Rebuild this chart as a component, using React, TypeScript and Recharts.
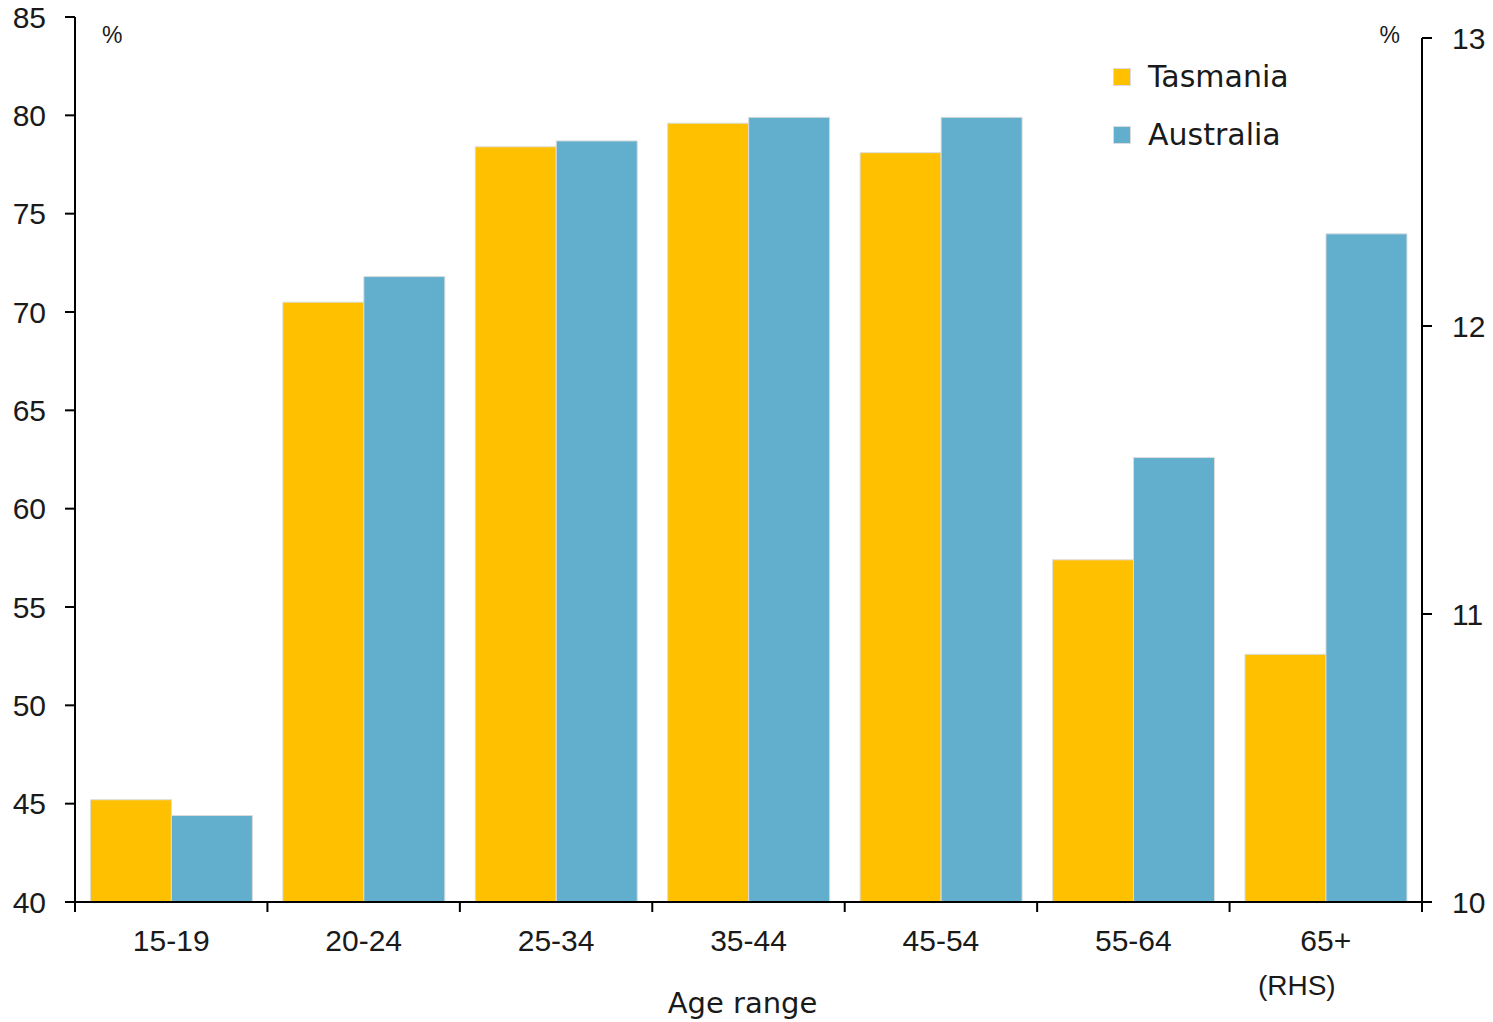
import React from 'react';
import { BarChart, Bar, XAxis, YAxis, Legend } from 'recharts';

const categories = ['15-19', '20-24', '25-34', '35-44', '45-54', '55-64', '65+'];
const tickNotes = ['', '', '', '', '', '', '(RHS)'];
const tasmania = [45.2, 70.5, 78.4, 79.6, 78.1, 57.4, null];
const australia = [44.4, 71.8, 78.7, 79.9, 79.9, 62.6, null];
const tasmaniaRhs = [null, null, null, null, null, null, 10.86];
const australiaRhs = [null, null, null, null, null, null, 12.32];
const leftTicks = [40, 45, 50, 55, 60, 65, 70, 75, 80, 85];
const rightTicks = [10, 11, 12, 13];
const seriesNames = ['Tasmania', 'Australia'];
const seriesColors = ['#FFC000', '#61AECD'];

const data = categories.map((c, i) => ({
  category: c,
  tas: tasmania[i],
  aus: australia[i],
  tasRhs: tasmaniaRhs[i],
  ausRhs: australiaRhs[i],
}));

const NUM_FONT = '"Liberation Sans", Arial, sans-serif';
const TEXT_FONT = '"DejaVu Sans", sans-serif';
const INK = '#1a1a1a';
const X_TICK_SIZE = 10;
const X_TICK_MARGIN = 18;
const AXIS_STROKE = { stroke: '#000', strokeWidth: 2 };

function AgeTick(props: any) {
  const { x, y, payload, index, visibleTicksCount } = props;
  const half = payload && typeof payload.offset === 'number' ? payload.offset : 0;
  const axisY = y - X_TICK_SIZE - X_TICK_MARGIN;
  const note = tickNotes[index];
  return (
    <g>
      <line x1={x - half} x2={x - half} y1={axisY} y2={axisY + X_TICK_SIZE} {...AXIS_STROKE} />
      {index === visibleTicksCount - 1 && (
        <line x1={x + half} x2={x + half} y1={axisY} y2={axisY + X_TICK_SIZE} {...AXIS_STROKE} />
      )}
      <text x={x} y={y} dy="0.71em" textAnchor="middle" fontFamily={NUM_FONT} fontSize={30} fill={INK}>
        {payload.value}
      </text>
      {note ? (
        <text x={x - 29} y={y + 45} dy="0.71em" textAnchor="middle" fontFamily={NUM_FONT} fontSize={28} fill={INK}>
          {note}
        </text>
      ) : null}
    </g>
  );
}

function renderLegend(props: any) {
  const payload = props.payload || [];
  const items = seriesNames
    .map((name) => payload.find((p: any) => p.value === name))
    .filter(Boolean);
  return (
    <div style={{ display: 'flex', flexDirection: 'column' }}>
      {items.map((p: any, i: number) => (
        <div key={i} style={{ display: 'flex', alignItems: 'center', height: 58 }}>
          <div style={{ width: 16, height: 16, background: p.color, border: '1px solid #dcdcdc', marginRight: 17 }} />
          <span style={{ fontFamily: TEXT_FONT, fontSize: 30, color: INK, lineHeight: '58px' }}>{p.value}</span>
        </div>
      ))}
    </div>
  );
}

export default function App() {
  return (
    <div style={{ position: 'absolute', left: 0, top: 0, background: '#fff' }}>
      <BarChart
        width={1493}
        height={1022}
        data={data}
        margin={{ top: 17, right: 0, bottom: 0, left: 0 }}
        barCategoryGap="8%"
        barGap={0}
      >
        <XAxis
          dataKey="category"
          height={120}
          interval={0}
          tickLine={false}
          tickSize={X_TICK_SIZE}
          tickMargin={X_TICK_MARGIN}
          axisLine={AXIS_STROKE}
          tick={<AgeTick />}
          label={{ value: 'Age range', position: 'insideBottom', offset: 9, dx: -6, fontFamily: TEXT_FONT, fontSize: 29, fill: INK }}
        />
        <YAxis
          yAxisId="left"
          orientation="left"
          width={75}
          domain={[40, 85]}
          ticks={leftTicks}
          allowDataOverflow
          interval={0}
          tickSize={10}
          tickMargin={19}
          axisLine={AXIS_STROKE}
          tickLine={AXIS_STROKE}
          tick={{ fontFamily: NUM_FONT, fontSize: 30, fill: INK }}
          label={{
            value: '%',
            content: (p: any) => (
              <text
                x={p.viewBox.x + p.viewBox.width + 27}
                y={p.viewBox.y + 18}
                dominantBaseline="central"
                textAnchor="start"
                fontFamily={NUM_FONT}
                fontSize={23}
                fill={INK}
              >
                %
              </text>
            ),
          }}
        />
        <YAxis
          yAxisId="right"
          orientation="right"
          width={71}
          domain={[10, 13.073]}
          ticks={rightTicks}
          allowDataOverflow
          interval={0}
          tickSize={10}
          tickMargin={20}
          axisLine={{ ...AXIS_STROKE, strokeDasharray: '0 21 3000' }}
          tickLine={AXIS_STROKE}
          tick={{ fontFamily: NUM_FONT, fontSize: 30, fill: INK }}
          label={{
            value: '%',
            content: (p: any) => (
              <text
                x={p.viewBox.x - 22}
                y={p.viewBox.y + 18}
                dominantBaseline="central"
                textAnchor="end"
                fontFamily={NUM_FONT}
                fontSize={23}
                fill={INK}
              >
                %
              </text>
            ),
          }}
        />
        <Legend
          layout="horizontal"
          align="center"
          verticalAlign="middle"
          content={renderLegend}
          wrapperStyle={{ position: 'absolute', left: 1113, top: 48, width: 'auto', height: 'auto' }}
        />
        <Bar yAxisId="left" dataKey="tas" name={seriesNames[0]} stackId="tas" fill={seriesColors[0]} stroke="#dcdcdc" strokeWidth={1} isAnimationActive={false} />
        <Bar yAxisId="left" dataKey="aus" name={seriesNames[1]} stackId="aus" fill={seriesColors[1]} stroke="#dcdcdc" strokeWidth={1} isAnimationActive={false} />
        <Bar yAxisId="right" dataKey="tasRhs" name="Tasmania (RHS)" legendType="none" stackId="tas" fill={seriesColors[0]} stroke="#dcdcdc" strokeWidth={1} isAnimationActive={false} />
        <Bar yAxisId="right" dataKey="ausRhs" name="Australia (RHS)" legendType="none" stackId="aus" fill={seriesColors[1]} stroke="#dcdcdc" strokeWidth={1} isAnimationActive={false} />
      </BarChart>
    </div>
  );
}
